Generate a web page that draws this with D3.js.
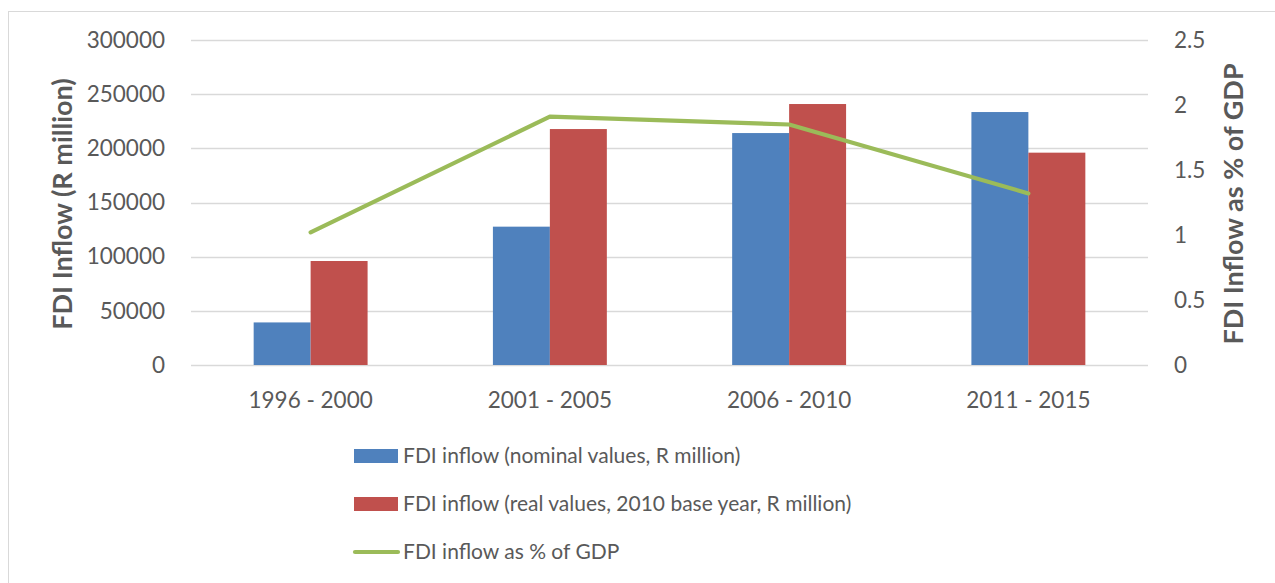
<!DOCTYPE html>
<html>
<head>
<meta charset="utf-8">
<script src="https://cdn.jsdelivr.net/npm/d3@7"></script>
<style>
  html, body { margin: 0; padding: 0; background: #fff; }
  svg { display: block; }
  text { font-family: Lato, "Open Sans", sans-serif; fill: #595959; }
</style>
</head>
<body>
<svg id="chart" width="1275" height="583"></svg>
<script>
// Five-year periods on the category axis
const periods = ["1996 - 2000", "2001 - 2005", "2006 - 2010", "2011 - 2015"];
// FDI inflow, R million
const nominalValues = [39300, 127700, 214100, 233500];
const realValues = [96000, 217800, 240900, 196000];
// FDI inflow as share of GDP, %
const gdpShare = [1.02, 1.91, 1.85, 1.32];

const leftTicks = [0, 50000, 100000, 150000, 200000, 250000, 300000];
const rightTicks = [0, 0.5, 1, 1.5, 2, 2.5];

const seriesNames = [
  "FDI inflow (nominal values, R million)",
  "FDI inflow (real values, 2010 base year, R million)",
  "FDI inflow as % of GDP"
];
const colors = { nominal: "#4F81BD", real: "#C0504D", share: "#9BBB59" };

const svg = d3.select("#chart");
const plot = { left: 191, right: 1148, top: 40, bottom: 365 };
const tickFont = "22.5px";

// Outer chart frame
svg.append("rect")
  .attr("x", 8.5).attr("y", 11.5)
  .attr("width", 1300).attr("height", 620)
  .attr("fill", "none").attr("stroke", "#d9d9d9").attr("stroke-width", 1);

const x = d3.scaleBand().domain(periods).range([plot.left, plot.right]).padding(0);
const barW = x.bandwidth() / 4.2;
const sub = d3.scaleBand().domain(["nominal", "real"])
  .range([x.bandwidth() / 2 - barW, x.bandwidth() / 2 + barW]).padding(0);
const yL = d3.scaleLinear().domain([0, 300000]).range([plot.bottom, plot.top]);
const yR = d3.scaleLinear().domain([0, 2.5]).range([plot.bottom, plot.top]);

// Horizontal gridlines
svg.append("g").selectAll("line").data(leftTicks).join("line")
  .attr("x1", plot.left).attr("x2", plot.right)
  .attr("y1", d => Math.round(yL(d)) + 0.5).attr("y2", d => Math.round(yL(d)) + 0.5)
  .attr("stroke", "#d9d9d9").attr("stroke-width", 1.3);

function styleAxisText(g) {
  g.select(".domain").remove();
  g.selectAll("text").style("font-size", tickFont).attr("fill", "#595959")
    .style("font-family", "Lato, 'Open Sans', sans-serif");
}

// Left axis labels
svg.append("g")
  .attr("transform", `translate(${plot.left},0)`)
  .call(d3.axisLeft(yL).tickValues(leftTicks).tickFormat(d3.format("d")).tickSize(0).tickPadding(26))
  .call(styleAxisText);

// Right axis labels
svg.append("g")
  .attr("transform", `translate(${plot.right},0)`)
  .call(d3.axisRight(yR).tickValues(rightTicks).tickFormat(d => String(d)).tickSize(0).tickPadding(26))
  .call(styleAxisText);

// Category labels
svg.append("g")
  .attr("transform", `translate(0,${plot.bottom})`)
  .call(d3.axisBottom(x).tickSize(0).tickPadding(27))
  .call(styleAxisText);

// Axis titles
svg.append("text")
  .attr("transform", `translate(72,204) rotate(-90)`)
  .attr("text-anchor", "middle")
  .style("font-size", "27px").style("font-weight", "bold")
  .text("FDI Inflow (R million)");
svg.append("text")
  .attr("transform", `translate(1243,204) rotate(-90)`)
  .attr("text-anchor", "middle")
  .style("font-size", "27px").style("font-weight", "bold")
  .text("FDI Inflow as % of GDP");

// Clustered bars
const barData = periods.flatMap((p, i) => [
  { period: p, key: "nominal", value: nominalValues[i] },
  { period: p, key: "real", value: realValues[i] }
]);
svg.append("g").selectAll("rect").data(barData).join("rect")
  .attr("x", d => x(d.period) + sub(d.key))
  .attr("width", sub.bandwidth())
  .attr("y", d => yL(d.value))
  .attr("height", d => yL(0) - yL(d.value))
  .attr("fill", d => colors[d.key]);

// GDP-share line on the secondary axis
const line = d3.line()
  .x((d, i) => x(periods[i]) + x.bandwidth() / 2)
  .y(d => yR(d));
svg.append("path").datum(gdpShare)
  .attr("d", line)
  .attr("fill", "none").attr("stroke", colors.share)
  .attr("stroke-width", 4.2).attr("stroke-linecap", "round").attr("stroke-linejoin", "round");

// Legend
const legend = svg.append("g");
const legendRows = [
  { key: "nominal", label: seriesNames[0], cy: 456 },
  { key: "real", label: seriesNames[1], cy: 504 },
  { key: "share", label: seriesNames[2], cy: 552 }
];
legendRows.forEach(r => {
  if (r.key === "share") {
    legend.append("line")
      .attr("x1", 355).attr("x2", 398).attr("y1", r.cy).attr("y2", r.cy)
      .attr("stroke", colors.share).attr("stroke-width", 4.2).attr("stroke-linecap", "round");
  } else {
    legend.append("rect")
      .attr("x", 354).attr("y", r.cy - 7).attr("width", 44).attr("height", 14)
      .attr("fill", colors[r.key]);
  }
  legend.append("text")
    .attr("x", 403).attr("y", r.cy).attr("dy", "0.35em")
    .style("font-size", "21px")
    .text(r.label);
});
</script>
</body>
</html>
